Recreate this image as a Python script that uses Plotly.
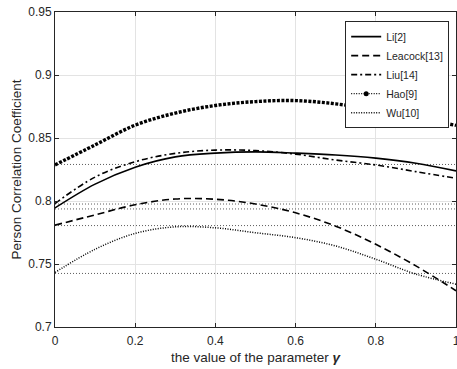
import plotly.graph_objects as go

gamma = [0.0, 0.1, 0.2, 0.3, 0.4, 0.5, 0.6, 0.7, 0.8, 0.9, 1.0]

li = [0.7945, 0.8134, 0.8268, 0.8350, 0.8380, 0.8390, 0.8380, 0.8365, 0.8340, 0.8300, 0.8239]
leacock = [0.7808, 0.7890, 0.7970, 0.8016, 0.8014, 0.7976, 0.7906, 0.7800, 0.7656, 0.7485, 0.7288]
liu = [0.7980, 0.8190, 0.8312, 0.8378, 0.8404, 0.8400, 0.8372, 0.8325, 0.8286, 0.8233, 0.8180]
hao = [0.8286, 0.8445, 0.8602, 0.8698, 0.8758, 0.8789, 0.8797, 0.8771, 0.8724, 0.8664, 0.8600]
wu = [0.7433, 0.7617, 0.7743, 0.7795, 0.7787, 0.7748, 0.7709, 0.7643, 0.7538, 0.7420, 0.7340]

baseline_values = [0.829, 0.7976, 0.7937, 0.7805, 0.7425]
baseline_x = [0.0, 1.0]

x_ticks = [0, 0.2, 0.4, 0.6, 0.8, 1]
x_tick_labels = ["0", "0.2", "0.4", "0.6", "0.8", "1"]
y_ticks = [0.7, 0.75, 0.8, 0.85, 0.9, 0.95]
y_tick_labels = ["0.7", "0.75", "0.8", "0.85", "0.9", "0.95"]

fig = go.Figure()

for b in baseline_values:
    fig.add_trace(go.Scatter(x=baseline_x, y=[b, b], mode="lines",
                             line=dict(color="#333333", width=0.8, dash="1px,2px"),
                             showlegend=False, hoverinfo="skip"))

fig.add_trace(go.Scatter(x=gamma, y=li, name="Li[2]", mode="lines",
                         line=dict(color="black", width=1.6, shape="spline")))
fig.add_trace(go.Scatter(x=gamma, y=leacock, name="Leacock[13]", mode="lines",
                         line=dict(color="black", width=1.6, dash="7px,4px", shape="spline")))
fig.add_trace(go.Scatter(x=gamma, y=liu, name="Liu[14]", mode="lines",
                         line=dict(color="black", width=1.6, dash="6px,3px,2px,3px", shape="spline")))
# Hao: dense marker line (beaded look)
fig.add_trace(go.Scatter(x=gamma, y=hao, name="Hao[9]", mode="lines",
                         line=dict(color="black", width=3.4, dash="3px,1.5px", shape="spline"),
                         showlegend=False))
fig.add_trace(go.Scatter(x=[None], y=[None], name="Hao[9]", mode="lines+markers",
                         line=dict(color="black", width=1.2, dash="1px,1.5px"),
                         marker=dict(color="black", size=5)))
fig.add_trace(go.Scatter(x=gamma, y=wu, name="Wu[10]", mode="lines",
                         line=dict(color="black", width=1.5, dash="1px,1.5px", shape="spline")))

axis_common = dict(
    showline=True, linecolor="#262626", linewidth=1, mirror="ticks",
    ticks="inside", ticklen=4, tickcolor="#262626",
    showgrid=True, gridcolor="#e3e3e3", gridwidth=1, zeroline=False,
    automargin=False, ticklabeloverflow="allow",
    tickfont=dict(family="Liberation Sans, Arial", size=12, color="#262626"),
)

fig.update_xaxes(range=[0, 1], tickvals=x_ticks, ticktext=x_tick_labels,
                 ticklabelstandoff=3,
                 title=dict(text="the value of the parameter <b><i>γ</i></b>",
                            font=dict(family="Liberation Sans, Arial", size=13.5, color="#262626"),
                            standoff=5),
                 **axis_common)
fig.update_yaxes(range=[0.7, 0.95], tickvals=y_ticks, ticktext=y_tick_labels,
                 title=dict(text="Person Correlation Coefficient",
                            font=dict(family="Liberation Sans, Arial", size=13.5, color="#262626"),
                            standoff=3),
                 **axis_common)

fig.update_layout(
    width=457, height=369,
    margin=dict(l=55, r=1, t=12, b=42),
    plot_bgcolor="white", paper_bgcolor="white",
    font=dict(family="Liberation Sans, Arial", size=11, color="#262626"),
    legend=dict(x=0.983, y=0.971, xanchor="right", yanchor="top",
                bgcolor="white", bordercolor="#262626", borderwidth=1,
                font=dict(family="Liberation Sans, Arial", size=10.5, color="#262626"),
                tracegroupgap=0, itemwidth=30),
)

fig.write_html("out.html", config={"displayModeBar": False},
               post_script="document.body.style.margin='0px';")
